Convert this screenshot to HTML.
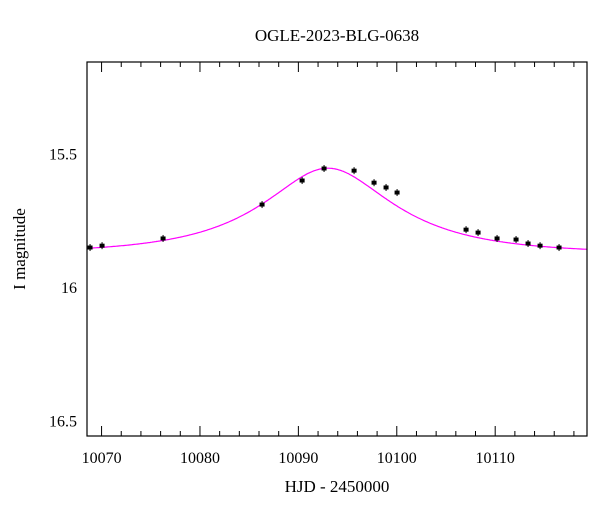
<!DOCTYPE html>
<html><head><meta charset="utf-8"><style>
body{margin:0;background:#fff;}
svg text{font-family:"Liberation Serif",serif;fill:#000;}
</style></head><body>
<svg id="c" width="600" height="512" xmlns="http://www.w3.org/2000/svg">
<text x="337" y="41" font-size="17" text-anchor="middle">OGLE-2023-BLG-0638</text>
<text x="337" y="492" font-size="17" text-anchor="middle">HJD - 2450000</text>
<text transform="translate(25,249) rotate(-90)" font-size="17" text-anchor="middle">I magnitude</text>
<g id="ticks"></g>
<path id="model" fill="none" stroke="#ff00ff" stroke-width="1.2"/>
<g id="pts"></g>
<rect x="87" y="62" width="500" height="374" fill="none" stroke="#000" stroke-width="1.2"/>
</svg>
<script>
const times=[10068.83,10070.05,10076.25,10086.31,10090.38,10092.61,10095.66,10097.69,10098.91,10100.03,10107.04,10108.26,10110.19,10112.12,10113.34,10114.56,10116.49];
const mags=[15.852,15.845,15.818,15.691,15.601,15.556,15.564,15.609,15.627,15.646,15.785,15.796,15.818,15.822,15.837,15.845,15.852];
const xTicks=[10070,10080,10090,10100,10110];
const yTicks=[15.5,16,16.5];
const yTickLabels=["15.5","16","16.5"];
const modelParams=[10093,0.5,12.9,0.29,15.875]; // t0,u0,tE,fs,base
const L=87,R=587,T=62,B=436;
const x0=10068.52,x1=10119.33,y0=15.157,y1=16.558;
const X=t=>L+(t-x0)/(x1-x0)*(R-L);
const Y=m=>T+(m-y0)/(y1-y0)*(B-T);
const NS="http://www.w3.org/2000/svg";
function mk(tag,at,parent){const e=document.createElementNS(NS,tag);for(const k in at)e.setAttribute(k,at[k]);parent.appendChild(e);return e;}
const tg=document.getElementById('ticks');
for(let t=10070;t<=10118;t+=2){const maj=(t%10===0);const len=maj?10:5;const px=X(t);
 let l=mk('line',{x1:px,x2:px,y1:B,y2:B-len,stroke:'#000','stroke-width':1},tg);
 
 
 l=mk('line',{x1:px,x2:px,y1:T,y2:T+len,stroke:'#000','stroke-width':1},tg);
 
 }
xTicks.forEach(t=>{const e=mk('text',{x:X(t),y:463,'font-size':16,'text-anchor':'middle'},tg);e.textContent=t;
 
 });
for(let i=16;i<=55;i++){const m=i/10;const maj=(i%5===0);const len=maj?18:7;const py=Y(m);
 let l=mk('line',{x1:L,x2:L+len,y1:py,y2:py,stroke:maj?'#000':'#777','stroke-width':1},tg);
 
 
 l=mk('line',{x1:R,x2:R-len,y1:py,y2:py,stroke:maj?'#000':'#777','stroke-width':1},tg);
 
 }
yTicks.forEach((m,i)=>{const e=mk('text',{x:77,y:Y(m)+6,'font-size':16,'text-anchor':'end'},tg);e.textContent=yTickLabels[i];
 
 });
const [t0,u0,tE,fs,base]=modelParams;
function model(t){const u=Math.sqrt(u0*u0+((t-t0)/tE)**2);const A=(u*u+2)/(u*Math.sqrt(u*u+4));return base-2.5*Math.log10(fs*(A-1)+1);}
let d='';for(let t=x0;t<=x1;t+=0.1){d+=(d?'L':'M')+X(t).toFixed(1)+','+Y(model(t)).toFixed(1);}
document.getElementById('model').setAttribute('d',d);
const pg=document.getElementById('pts');
times.forEach((t,i)=>{const px=X(t),py=Y(mags[i]);
 const el=mk('line',{x1:px,x2:px,y1:py-3.5,y2:py+3.5,stroke:'#000','stroke-width':1},pg);
 
 
 const r=mk('rect',{x:px-2.5,y:py-2,width:5,height:4,fill:'#000'},pg);
 
 });
</script>
</body></html>
